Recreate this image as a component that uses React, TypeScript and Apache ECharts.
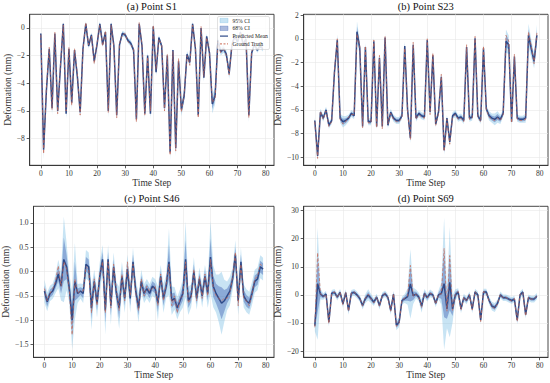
import React, { useEffect, useRef } from 'react';
import * as echarts from 'echarts';

const steps: number[] = Array.from({ length: 80 }, (_, i) => i);
const xTicks = [0, 10, 20, 30, 40, 50, 60, 70, 80];

// (a) Point S1
const predA = [-0.4, -8.8, -4.5, -1.5, -5.8, -0.4, -6.0, -2.8, 0.3, -6.2,
  -1.5, -5.4, -1.6, -3.5, -6.1, -1.5, 0.3, -1.3, -0.5, -2.4,
  -1.2, 0.3, -1.2, -0.3, -6.0, 0.3, -1.3, -6.3, -1.2, -0.4,
  -0.5, -0.9, -1.1, -1.6, -6.6, 0.3, -1.3, -6.2, -2.0, -6.2,
  0.1, -3.2, -0.7, -1.3, -5.8, -2.0, -9.0, -1.6, -8.7, -2.4,
  -5.9, -4.9, -1.9, -2.5, 0.3, -1.5, -6.3, 0.0, -3.6, -0.6,
  -1.8, -5.5, -4.9, -0.9, -1.7, -1.5, -1.9, -3.3, -1.2, -0.6,
  -1.0, -0.3, -1.2, -0.8, -6.3, -1.8, -1.2, -1.6, -1.3, -1.5];
const truthA = [-0.5, -9.1, -4.3, -1.4, -5.9, -0.3, -6.2, -2.6, 0.2, -6.0,
  -1.4, -5.6, -1.5, -3.3, -6.3, -1.6, 0.4, -1.2, -0.6, -2.6,
  -1.1, 0.2, -1.3, -0.2, -6.1, 0.2, -1.4, -6.5, -1.1, -0.5,
  -0.4, -1.0, -1.2, -1.5, -6.8, 0.4, -1.2, -6.3, -2.1, -6.0,
  0.2, -3.0, -0.8, -1.2, -6.0, -1.9, -9.2, -1.7, -8.9, -2.2,
  -6.1, -4.8, -2.0, -2.7, 0.2, -1.4, -6.5, 0.1, -3.5, -0.7,
  -1.7, -5.4, -5.1, -1.0, -1.8, -1.4, -2.0, -3.4, -1.1, -0.7,
  -0.9, -0.4, -1.1, -0.9, -6.5, -1.7, -1.3, -1.5, -1.4, -1.4];
const sigmaA = [0.10, 0.35, 0.20, 0.10, 0.25, 0.10, 0.20, 0.15, 0.10, 0.20,
  0.10, 0.25, 0.10, 0.15, 0.20, 0.10, 0.10, 0.10, 0.10, 0.15,
  0.10, 0.10, 0.10, 0.10, 0.25, 0.10, 0.10, 0.20, 0.10, 0.10,
  0.10, 0.10, 0.12, 0.12, 0.20, 0.10, 0.10, 0.20, 0.15, 0.20,
  0.10, 0.15, 0.10, 0.10, 0.20, 0.15, 0.30, 0.10, 0.30, 0.15,
  0.25, 0.25, 0.12, 0.15, 0.10, 0.10, 0.20, 0.10, 0.15, 0.10,
  0.15, 0.35, 0.30, 0.12, 0.15, 0.15, 0.15, 0.20, 0.12, 0.10,
  0.10, 0.10, 0.10, 0.10, 0.25, 0.12, 0.10, 0.10, 0.10, 0.10];

// (b) Point S23
const predB = [-6.9, -9.9, -6.2, -6.7, -6.0, -7.3, -6.9, -2.8, -0.1, -6.7,
  -7.0, -6.9, -6.7, -6.3, -6.5, 0.6, -0.8, -7.4, -0.7, -7.0,
  -7.0, -0.2, -7.4, -1.6, -7.4, 0.1, -7.3, -6.2, -6.7, -6.9,
  -6.9, -6.5, -0.6, -6.0, -8.4, -0.5, -6.7, -6.3, -6.5, -6.6,
  -0.1, -6.2, -1.4, -7.2, -6.2, -3.2, -9.4, -6.7, -8.7, -6.5,
  -6.3, -6.7, -6.6, -6.9, -0.7, -6.7, -6.6, 0.05, -6.5, -6.9,
  -0.8, -5.9, -6.5, -6.7, -6.8, -6.6, -6.8, -6.3, -0.2, -0.5,
  -7.0, -1.5, -6.7, -6.8, -6.8, -6.7, 0.3, -0.8, -1.9, 0.3];
const truthB = [-7.0, -10.1, -6.1, -6.8, -6.1, -7.4, -7.0, -2.6, 0.0, -6.8,
  -7.2, -7.0, -6.6, -6.4, -6.4, 0.4, -0.6, -7.5, -0.6, -7.1,
  -7.1, -0.1, -7.5, -1.4, -7.6, 0.2, -7.2, -6.3, -6.8, -7.0,
  -7.0, -6.6, -0.8, -6.1, -8.5, -0.3, -6.8, -6.4, -6.6, -6.7,
  0.0, -6.4, -1.2, -7.3, -6.3, -3.0, -9.5, -6.8, -8.9, -6.6,
  -6.4, -6.8, -6.7, -7.0, -0.5, -6.8, -6.7, 0.2, -6.6, -7.0,
  -0.6, -6.0, -6.6, -6.8, -6.9, -6.7, -6.9, -6.4, 0.3, -0.2,
  -7.1, -1.3, -6.8, -6.9, -6.9, -6.8, 0.6, -0.6, -2.1, 0.5];
const sigmaB = [0.15, 0.20, 0.15, 0.15, 0.15, 0.15, 0.15, 0.20, 0.25, 0.20,
  0.25, 0.20, 0.15, 0.15, 0.15, 0.45, 0.30, 0.15, 0.20, 0.15,
  0.15, 0.20, 0.15, 0.20, 0.15, 0.20, 0.15, 0.15, 0.15, 0.15,
  0.15, 0.15, 0.20, 0.15, 0.20, 0.20, 0.15, 0.15, 0.15, 0.15,
  0.20, 0.15, 0.20, 0.15, 0.15, 0.20, 0.20, 0.15, 0.20, 0.15,
  0.15, 0.15, 0.15, 0.15, 0.20, 0.15, 0.15, 0.20, 0.15, 0.15,
  0.20, 0.15, 0.20, 0.20, 0.25, 0.25, 0.20, 0.15, 0.50, 0.40,
  0.15, 0.20, 0.15, 0.15, 0.15, 0.20, 0.50, 0.40, 0.30, 0.45];

// (c) Point S46
const predC = [-0.40, -0.62, -0.45, -0.40, -0.25, -0.05, -0.30, 0.25, 0.10, -0.35,
  -1.00, -0.20, -0.45, -0.40, -0.45, 0.15, 0.10, -0.75, -0.20, -0.65,
  -0.10, 0.25, -0.80, 0.25, -0.70, 0.10, -0.45, -0.75, -0.10, -0.55,
  0.05, -0.55, 0.20, -0.40, -0.75, -0.20, -0.45, -0.35, -0.45, -0.30,
  -0.35, -0.65, -0.10, -0.55, -0.30, 0.20, -0.60, -0.55, -0.75, -0.60,
  -0.45, 0.25, -0.60, -0.50, 0.00, -0.55, -0.15, -0.50, -0.10, -0.45,
  0.30, -0.30, -0.45, -0.55, -0.65, -0.60, -0.50, -0.40, -0.15, 0.35,
  -0.60, 0.20, -0.50, -0.60, -0.65, -0.45, -0.20, -0.15, 0.10, 0.05];
const truthC = [-0.35, -0.60, -0.45, -0.35, -0.20, 0.12, -0.30, 0.20, 0.05, -0.40,
  -1.30, -0.15, -0.45, -0.40, -0.40, 0.10, 0.05, -0.85, -0.15, -0.70,
  -0.05, 0.20, -0.85, 0.20, -0.75, 0.15, -0.40, -0.80, -0.05, -0.60,
  0.20, -0.50, 0.15, -0.45, -0.80, -0.15, -0.50, -0.30, -0.40, -0.35,
  -0.30, -0.70, -0.05, -0.60, -0.25, 0.15, -0.70, -0.50, -0.85, -0.55,
  -0.50, 0.20, -0.65, -0.55, 0.05, -0.60, -0.10, -0.55, -0.05, -0.50,
  0.25, -0.35, -0.50, -0.55, -0.60, -0.55, -0.55, -0.45, -0.10, 0.40,
  -0.70, 0.15, -0.55, -0.60, -0.70, -0.45, -0.15, -0.10, 0.15, 0.10];
const sigmaC = [0.12, 0.10, 0.08, 0.08, 0.10, 0.15, 0.15, 0.45, 0.25, 0.15,
  0.30, 0.40, 0.10, 0.08, 0.10, 0.15, 0.15, 0.23, 0.12, 0.15,
  0.15, 0.15, 0.25, 0.15, 0.20, 0.15, 0.12, 0.22, 0.15, 0.15,
  0.15, 0.15, 0.15, 0.12, 0.15, 0.12, 0.10, 0.10, 0.10, 0.10,
  0.10, 0.18, 0.12, 0.15, 0.12, 0.35, 0.15, 0.12, 0.12, 0.12,
  0.15, 0.40, 0.15, 0.12, 0.15, 0.12, 0.12, 0.12, 0.12, 0.15,
  0.38, 0.22, 0.20, 0.25, 0.33, 0.22, 0.15, 0.15, 0.12, 0.15,
  0.15, 0.15, 0.12, 0.12, 0.12, 0.12, 0.12, 0.12, 0.12, 0.12];

// (d) Point S69
const predD = [-11, 4, 0.3, -0.6, 0.3, -9.7, 0.6, 0.9, -0.8, 0.9,
  -3.2, 0.8, -5.5, 0.6, 0.9, 0.0, -1.3, -3.8, -1.3, 0.0,
  -1.3, -2.6, -0.8, -3.8, -0.3, 0.4, -0.9, -5.5, 0.3, -10.8,
  -9.7, -2.0, -1.3, -0.6, 3.9, -0.3, 0.3, -0.8, -4.0, 0.5,
  -1.0, 0.5, 0.0, -3.0, 0.0, 0.5, 4.0, -5.0, 4.5, -5.0,
  0.0, 1.0, -5.0, -1.0, -2.0, 0.0, -5.0, 1.0, 0.0, -9.0,
  1.0, 1.0, -2.0, -4.0, -4.5, -3.0, 0.0, -1.0, -1.0, -1.5,
  -2.0, -1.5, -9.0, 0.0, 1.0, -7.0, -1.0, -1.5, -1.5, -0.5];
const truthD = [-11.5, 15, 0.5, -0.8, 0.2, -10.2, 0.4, 1.1, -1.0, 1.0,
  -3.5, 0.9, -5.8, 0.5, 1.1, -0.2, -1.2, -4.0, -1.1, 0.3,
  -1.4, -2.8, -0.7, -4.0, -0.2, 0.5, -1.0, -5.8, 0.4, -11.2,
  -10.0, -1.8, -1.2, -0.4, 10.5, -0.5, 0.2, -0.9, -4.4, 0.6,
  -1.1, 0.6, 0.1, -3.3, 0.2, 0.3, 16.5, -5.8, 14.0, -5.5,
  0.2, 1.2, -5.4, -0.8, -2.3, 0.1, -5.4, 1.2, -0.2, -9.5,
  1.1, 0.8, -2.2, -4.3, -4.8, -3.2, 0.2, -1.1, -0.8, -1.7,
  -2.2, -1.3, -9.5, 0.2, 0.8, -7.5, -0.8, -1.6, -1.3, -0.4];
const sigmaD = [1.0, 10.2, 1.0, 0.6, 0.6, 0.8, 0.6, 0.6, 0.6, 0.6,
  0.7, 0.6, 0.8, 0.6, 0.6, 0.6, 0.6, 0.7, 0.8, 1.0,
  0.8, 0.7, 0.6, 0.7, 0.6, 0.6, 0.6, 0.8, 0.6, 0.9,
  0.9, 0.7, 0.8, 1.5, 6.3, 1.5, 0.8, 0.8, 1.2, 0.8,
  0.7, 0.7, 0.6, 0.7, 0.8, 2.0, 12.0, 3.5, 10.0, 2.5,
  1.0, 0.7, 0.8, 0.7, 0.7, 0.6, 0.8, 0.6, 0.6, 0.8,
  0.6, 0.6, 0.7, 0.8, 0.8, 0.7, 0.6, 0.6, 0.6, 0.6,
  0.6, 0.6, 0.8, 0.6, 0.6, 0.7, 0.6, 0.6, 0.6, 0.6];

const FONT = '"Liberation Serif", "Times New Roman", serif';
const C95 = 'rgba(110, 185, 225, 0.38)';
const C68 = 'rgba(55, 90, 175, 0.42)';
const C_PRED = '#2f4a88';
const C_TRUE = '#c96a55';

const panels = [
  { title: '(a) Point S1', pred: predA, truth: truthA, sigma: sigmaA, yMin: -9.93, yMax: 0.99, yTicks: [-8, -6, -4, -2, 0], dec: 0, gap: 16 },
  { title: '(b) Point S23', pred: predB, truth: truthB, sigma: sigmaB, yMin: -10.68, yMax: 2.07, yTicks: [-10, -8, -6, -4, -2, 0, 2], dec: 0, gap: 16 },
  { title: '(c) Point S46', pred: predC, truth: truthC, sigma: sigmaC, yMin: -1.76, yMax: 1.34, yTicks: [-1.5, -1.0, -0.5, 0.0, 0.5, 1.0], dec: 1, gap: 18.5 },
  { title: '(d) Point S69', pred: predD, truth: truthD, sigma: sigmaD, yMin: -22.2, yMax: 31.5, yTicks: [-20, -10, 0, 10, 20, 30], dec: 0, gap: 17.5 },
];

const LEFTS = [29.7, 303.7, 29.7, 303.7];
const TOPS = [14.3, 14.3, 206.3, 206.3];
const W = 244.3;
const H = 151;

const fmt = (v: number, d: number) => (v < 0 ? '\u2212' : '') + Math.abs(v).toFixed(d);

function bandSeries(i: number, upper: number[], lower: number[], color: string, z: number) {
  return {
    type: 'custom',
    xAxisIndex: i,
    yAxisIndex: i,
    silent: true,
    z,
    clip: true,
    data: [[0, 0]],
    renderItem: (_p: any, api: any) => {
      const pts: number[][] = [];
      for (let k = 0; k < steps.length; k++) pts.push(api.coord([steps[k], upper[k]]));
      for (let k = steps.length - 1; k >= 0; k--) pts.push(api.coord([steps[k], lower[k]]));
      return { type: 'polygon', shape: { points: pts }, style: { fill: color, stroke: 'none' } };
    },
  };
}

export default function App() {
  const ref = useRef<HTMLDivElement>(null);
  useEffect(() => {
    if (!ref.current) return;
    const chart = echarts.init(ref.current, undefined, { renderer: 'svg' });
    const grid: any[] = [];
    const xAxis: any[] = [];
    const yAxis: any[] = [];
    const series: any[] = [];
    const graphic: any[] = [];
    panels.forEach((p, i) => {
      grid.push({ left: LEFTS[i], top: TOPS[i], width: W, height: H, show: true, borderColor: '#333', borderWidth: 0.9, backgroundColor: '#fff' });
      xAxis.push({
        type: 'value', gridIndex: i, min: -3.95, max: 82.95,
        name: 'Time Step', nameLocation: 'middle', nameGap: 13,
        nameTextStyle: { fontFamily: FONT, fontSize: 9.5, color: '#333', fontWeight: 'normal' },
        axisLine: { show: true, onZero: false, lineStyle: { color: '#333', width: 0.9 } },
        axisTick: { show: true, length: 3, customValues: xTicks, lineStyle: { color: '#333', width: 0.8 } },
        axisLabel: { customValues: xTicks, fontFamily: FONT, fontSize: 7.5, color: '#333', margin: 4, formatter: (v: number) => fmt(v, 0) },
        splitLine: { show: true, lineStyle: { color: '#e8e8e8', width: 0.6 } },
      });
      yAxis.push({
        type: 'value', gridIndex: i, min: p.yMin, max: p.yMax,
        name: 'Deformation (mm)', nameLocation: 'middle', nameGap: p.gap,
        nameTextStyle: { fontFamily: FONT, fontSize: 9.5, color: '#333', fontWeight: 'normal' },
        axisLine: { show: true, onZero: false, lineStyle: { color: '#333', width: 0.9 } },
        axisTick: { show: true, length: 3, customValues: p.yTicks, lineStyle: { color: '#333', width: 0.8 } },
        axisLabel: { customValues: p.yTicks, fontFamily: FONT, fontSize: 7.5, color: '#333', margin: 5, formatter: (v: number) => fmt(v, p.dec) },
        splitLine: { show: true, lineStyle: { color: '#e8e8e8', width: 0.6 } },
      });
      const up95 = p.pred.map((v, k) => v + 1.96 * p.sigma[k]);
      const lo95 = p.pred.map((v, k) => v - 1.96 * p.sigma[k]);
      const up68 = p.pred.map((v, k) => v + p.sigma[k]);
      const lo68 = p.pred.map((v, k) => v - p.sigma[k]);
      series.push(bandSeries(i, up95, lo95, C95, 1));
      series.push(bandSeries(i, up68, lo68, C68, 2));
      series.push({
        type: 'line', name: 'Predicted Mean', xAxisIndex: i, yAxisIndex: i, z: 3,
        data: steps.map((t, k) => [t, p.pred[k]]), symbol: 'none', showSymbol: false,
        lineStyle: { color: C_PRED, width: 1.5 }, silent: true,
      });
      series.push({
        type: 'line', name: 'Ground Truth', xAxisIndex: i, yAxisIndex: i, z: 4,
        data: steps.map((t, k) => [t, p.truth[k]]), symbol: 'none', showSymbol: false,
        lineStyle: { color: C_TRUE, width: 1.0, type: [3, 2], opacity: 0.7 }, silent: true,
      });
      graphic.push({
        type: 'text', x: LEFTS[i] + W / 2, y: TOPS[i] - 7.5,
        style: { text: p.title, font: `10.5px ${FONT}`, fill: '#111', align: 'center', verticalAlign: 'middle' },
      });
    });
    // legend in panel (a)
    const lx = 217.5, ly = 16.5;
    const rows = [20.5, 28.3, 36.1, 43.9];
    graphic.push({ type: 'rect', shape: { x: lx, y: ly, width: 52, height: 33, r: 1.5 }, style: { fill: 'rgba(255,255,255,0.85)', stroke: '#cfcfcf', lineWidth: 0.6 }, z: 10 });
    graphic.push({ type: 'rect', shape: { x: 220, y: rows[0] - 2.2, width: 8, height: 4.4 }, style: { fill: C95, stroke: 'rgba(110,185,225,0.6)', lineWidth: 0.5 }, z: 11 });
    graphic.push({ type: 'rect', shape: { x: 220, y: rows[1] - 2.2, width: 8, height: 4.4 }, style: { fill: C68, stroke: 'rgba(55,90,175,0.6)', lineWidth: 0.5 }, z: 11 });
    graphic.push({ type: 'line', shape: { x1: 220, y1: rows[2], x2: 228, y2: rows[2] }, style: { stroke: C_PRED, lineWidth: 1.2 }, z: 11 });
    graphic.push({ type: 'line', shape: { x1: 220, y1: rows[3], x2: 228, y2: rows[3] }, style: { stroke: C_TRUE, lineWidth: 1, lineDash: [2, 1.5] }, z: 11 });
    ['95% CI', '68% CI', 'Predicted Mean', 'Ground Truth'].forEach((t, k) => {
      graphic.push({ type: 'text', x: 232.5, y: rows[k], style: { text: t, font: `5.6px ${FONT}`, fill: '#222', align: 'left', verticalAlign: 'middle' }, z: 11 });
    });
    chart.setOption({ animation: false, backgroundColor: '#fff', grid, xAxis, yAxis, series, graphic });
    return () => chart.dispose();
  }, []);
  return <div ref={ref} style={{ position: 'fixed', left: 0, top: 0, width: 550, height: 383 }} />;
}
